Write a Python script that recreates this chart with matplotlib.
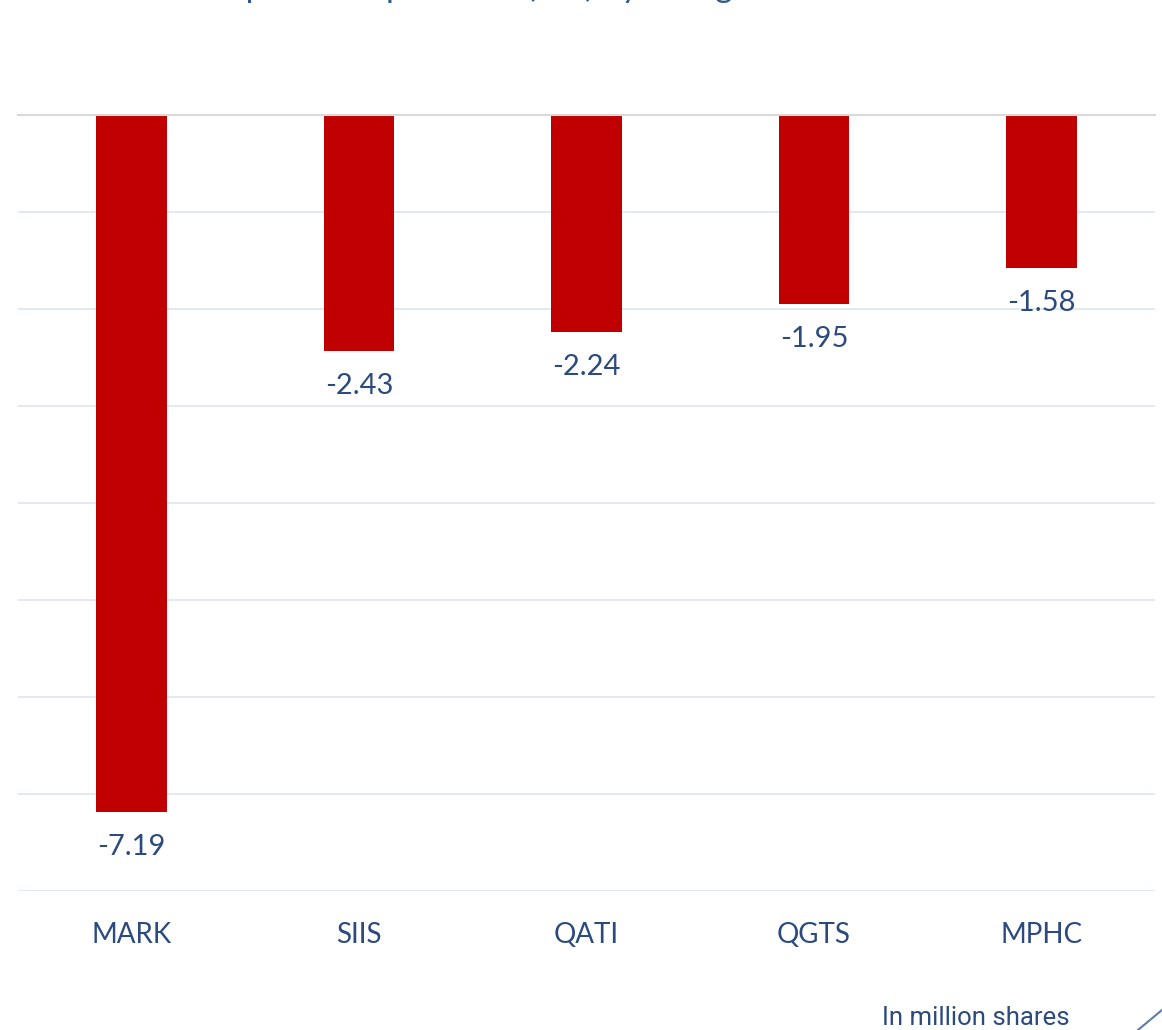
import matplotlib.pyplot as plt
from matplotlib.lines import Line2D

# data (million shares)
tickers = ['MARK', 'SIIS', 'QATI', 'QGTS', 'MPHC']
net_values = [-7.19, -2.43, -2.24, -1.95, -1.58]
y_ticks = [0, -1, -2, -3, -4, -5, -6, -7, -8]

navy = '#2B4A7E'
bar_red = '#C00000'

plt.rcParams['font.family'] = ['Lato', 'DejaVu Sans']

fig = plt.figure(figsize=(11.62, 10.30), dpi=100)
ax = fig.add_axes([0.0155, 0.135, 0.9785, 0.7534])

x = range(len(tickers))
ax.bar(x, net_values, width=0.31, color=bar_red, zorder=3)

# value labels under each bar
for i, v in enumerate(net_values):
    ax.annotate(f'{v:.2f}', (i, v), xytext=(0, -35), textcoords='offset pixels',
                ha='center', va='center', fontsize=21, color=navy)

ax.set_ylim(-8, 0)
ax.set_xlim(-0.5, len(tickers) - 0.5)
ax.set_yticks(y_ticks)
ax.yaxis.grid(True, color='#DCE6F2', linewidth=1.2, zorder=0)
ax.tick_params(axis='y', left=False, labelleft=False)
ax.tick_params(axis='x', bottom=False, pad=19)
ax.set_xticks(list(x))
ax.set_xticklabels(tickers, fontsize=20, color=navy)
for s in ['left', 'right', 'bottom']:
    ax.spines[s].set_visible(False)
ax.spines['top'].set_color('#D9D9D9')
ax.spines['top'].set_linewidth(1.5)
ax.spines['top'].set_zorder(4)

# title, mostly cropped above the image edge (as in the source image)
fig.text(0.178, 1 + 3 / 1030, 'Top net sell positions (Mn) by foreigners',
         fontsize=24, color='#2E5A8C', ha='left', va='baseline')

fig.text(0.759, 5 / 1030, 'In million shares', fontsize=18.5, color=navy,
         ha='left', va='baseline', family=['Roboto', 'DejaVu Sans'])

# corner decoration
fig.add_artist(Line2D([1138 / 1162, 1.0], [0.0, 20 / 1030], color='#5B7FA8', linewidth=1.5))

fig.savefig('out.png', dpi=100)
